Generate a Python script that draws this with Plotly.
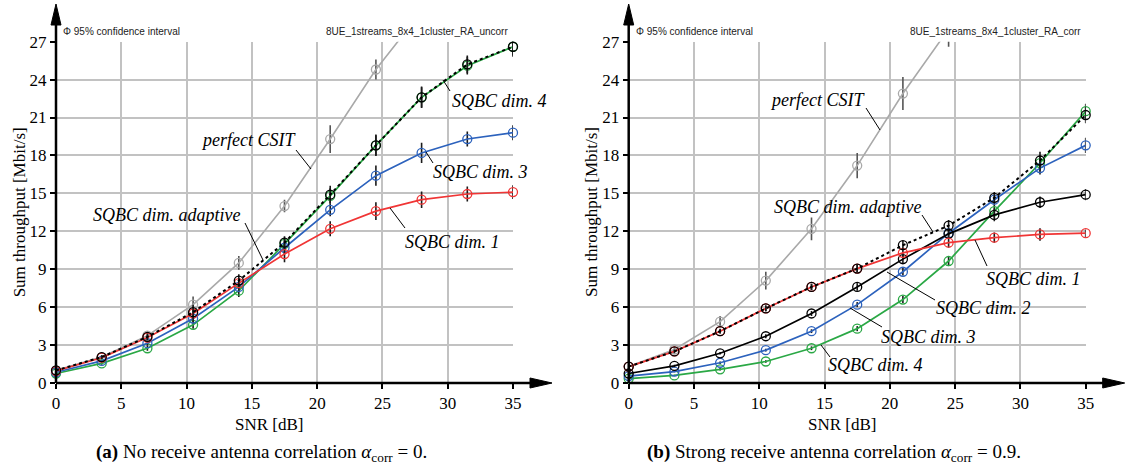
import plotly.graph_objects as go

W, H = 1127, 471

# SNR grid of the simulation [dB]
snr = [0, 3.5, 7, 10.5, 14, 17.5, 21, 24.5, 28, 31.5, 35]
x_ticks = [0, 5, 10, 15, 20, 25, 30, 35]
y_ticks = [0, 3, 6, 9, 12, 15, 18, 21, 24, 27]

# ---- (a) no receive antenna correlation -------------------------------
a_csit = [1.0, 2.05, 3.75, 6.2, 9.5, 14.0, 19.3, 24.8, 29.4]
a_csit_err = [0.1, 0.15, 0.3, 0.65, 0.55, 0.5, 1.1, 0.8, 1.0]
a_dim4 = [0.75, 1.55, 2.75, 4.6, 7.3, 11.0, 14.8, 18.8, 22.6, 25.1, 26.6]
a_dim4_err = [0.1, 0.1, 0.2, 0.3, 0.5, 0.5, 0.6, 0.8, 0.8, 0.7, 0.7]
a_dim3 = [0.85, 1.75, 3.15, 5.1, 7.6, 10.7, 13.7, 16.4, 18.2, 19.3, 19.8]
a_dim3_err = [0.1, 0.1, 0.2, 0.3, 0.4, 0.5, 0.5, 0.8, 0.8, 0.6, 0.6]
a_dim1 = [0.95, 2.0, 3.6, 5.5, 7.9, 10.2, 12.2, 13.6, 14.5, 14.95, 15.1]
a_dim1_err = [0.1, 0.1, 0.2, 0.3, 0.4, 0.65, 0.6, 0.7, 0.65, 0.6, 0.55]
a_adapt = [1.0, 2.05, 3.65, 5.6, 8.1, 11.1, 14.9, 18.8, 22.6, 25.2, 26.6]
a_adapt_err = [0.15, 0.15, 0.25, 0.6, 0.5, 0.5, 0.7, 0.85, 0.85, 0.7, 0.8]

# ---- (b) strong receive antenna correlation ---------------------------
b_csit = [1.3, 2.65, 4.85, 8.1, 12.2, 17.2, 22.9, 28.0]
b_csit_err = [0.15, 0.2, 0.45, 0.7, 0.9, 1.0, 1.3, 1.4]
b_dim4 = [0.35, 0.6, 1.08, 1.7, 2.75, 4.3, 6.6, 9.65, 13.6, 17.4, 21.5]
b_dim4_err = [0.05, 0.05, 0.1, 0.1, 0.15, 0.2, 0.3, 0.4, 0.5, 0.6, 0.6]
b_dim3 = [0.55, 0.9, 1.6, 2.6, 4.1, 6.2, 8.8, 11.85, 14.5, 17.0, 18.8]
b_dim3_err = [0.05, 0.05, 0.1, 0.1, 0.15, 0.2, 0.3, 0.4, 0.4, 0.5, 0.6]
b_dim2 = [0.75, 1.35, 2.35, 3.7, 5.5, 7.6, 9.8, 11.8, 13.3, 14.3, 14.9]
b_dim2_err = [0.05, 0.1, 0.1, 0.15, 0.2, 0.3, 0.4, 0.4, 0.5, 0.45, 0.45]
b_dim1 = [1.3, 2.5, 4.1, 5.9, 7.6, 9.05, 10.3, 11.1, 11.5, 11.75, 11.85]
b_dim1_err = [0.05, 0.1, 0.15, 0.2, 0.25, 0.3, 0.35, 0.4, 0.4, 0.5, 0.3]
b_adapt = [1.3, 2.5, 4.1, 5.9, 7.6, 9.05, 10.9, 12.45, 14.65, 17.6, 21.2]
b_adapt_err = [0.15, 0.15, 0.2, 0.25, 0.25, 0.3, 0.35, 0.45, 0.45, 0.7, 0.65]

GRAY, GREEN, BLUE, RED, BLACK = "#a9a9a9", "#2aa845", "#2c62bd", "#f03535", "#000000"
SERIF = "Liberation Serif"
SANS = "Liberation Sans"


def px(x):
    return x / W


def py(y):
    return 1 - y / H


def series(xs, ys, err, color, xa, ya, dash=None, width=1.7, err_color="#1a1a1a",
           clip=False):
    return go.Scatter(
        x=xs[:len(ys)], y=ys, xaxis=xa, yaxis=ya, mode="lines+markers",
        line=dict(color=color, width=width, dash=dash),
        marker=dict(symbol="circle-open", size=9, color=color if dash is None else BLACK,
                    line=dict(width=1.3)),
        error_y=dict(type="data", array=err, width=0, thickness=1.6, color=err_color),
        cliponaxis=clip, showlegend=False, hoverinfo="skip",
    )


fig = go.Figure()

# subplot (a)
fig.add_trace(series(snr, a_csit, a_csit_err, GRAY, "x", "y", width=1.6, err_color="#555", clip=True))
fig.add_trace(series(snr, a_dim4, a_dim4_err, GREEN, "x", "y"))
fig.add_trace(series(snr, a_dim3, a_dim3_err, BLUE, "x", "y"))
fig.add_trace(series(snr, a_dim1, a_dim1_err, RED, "x", "y"))
fig.add_trace(series(snr, a_adapt, a_adapt_err, BLACK, "x", "y", dash="3px,3px", width=2))

# subplot (b)
fig.add_trace(series(snr, b_csit, b_csit_err, GRAY, "x2", "y2", width=1.6, err_color="#555", clip=True))
fig.add_trace(series(snr, b_dim4, b_dim4_err, GREEN, "x2", "y2"))
fig.add_trace(series(snr, b_dim3, b_dim3_err, BLUE, "x2", "y2"))
fig.add_trace(series(snr, b_dim2, b_dim2_err, BLACK, "x2", "y2"))
fig.add_trace(series(snr, b_dim1, b_dim1_err, RED, "x2", "y2"))
fig.add_trace(series(snr, b_adapt, b_adapt_err, BLACK, "x2", "y2", dash="3px,3px", width=2))

# plot frames in pixels: (left, right) for x=0..35, top/bottom for y=27..0
FRAMES = [(56, 513), (628.7, 1085.7)]
TOP, BOTTOM = 41.7, 383

axis_common = dict(
    showgrid=True, gridcolor="#c2c2c2", gridwidth=1.5, zeroline=False,
    showline=False, ticks="outside", ticklen=5, tickwidth=1.5, tickcolor="black",
    tickfont=dict(family=SERIF, size=17, color="black"), automargin=False,
)
for i, (l, r) in enumerate(FRAMES):
    sx = "" if i == 0 else "2"
    fig.layout["xaxis" + sx] = dict(
        axis_common, domain=[px(l), px(r)], range=[0, 35], tickvals=x_ticks,
        anchor="y" + sx,
    )
    fig.layout["yaxis" + sx] = dict(
        axis_common, domain=[py(BOTTOM), py(TOP)], range=[0, 27], tickvals=y_ticks,
        anchor="x" + sx,
    )

shapes = []
annotations = []


def seg(x0, y0, x1, y1, w=1.0, color="black"):
    shapes.append(dict(type="line", xref="paper", yref="paper",
                       x0=px(x0), y0=py(y0), x1=px(x1), y1=py(y1),
                       line=dict(color=color, width=w), layer="above"))


def tri(points):
    path = "M " + " L ".join(f"{px(a)},{py(b)}" for a, b in points) + " Z"
    shapes.append(dict(type="path", xref="paper", yref="paper", path=path,
                       fillcolor="black", line=dict(color="black", width=1), layer="above"))


def text(x, y, s, size=18, family=SERIF, xanchor="center", angle=0, color="black"):
    annotations.append(dict(xref="paper", yref="paper", x=px(x), y=py(y), text=s,
                            showarrow=False, xanchor=xanchor, yanchor="middle",
                            textangle=angle,
                            font=dict(family=family, size=size, color=color)))


captions = [
    "<b>(a)</b> No receive antenna correlation <i>α</i><sub>corr</sub> = 0.",
    "<b>(b)</b> Strong receive antenna correlation <i>α</i><sub>corr</sub> = 0.9.",
]
run_names = ["8UE_1streams_8x4_1cluster_RA_uncorr", "8UE_1streams_8x4_1cluster_RA_corr"]

for i, (l, r) in enumerate(FRAMES):
    # arrowed axes
    seg(l, BOTTOM, l, 22, w=2.5)
    tri([(l - 5, 25), (l + 5, 25), (l, 4)])
    seg(l, BOTTOM, r + 20, BOTTOM, w=2.5)
    tri([(r + 17, BOTTOM - 5), (r + 17, BOTTOM + 5), (r + 39, BOTTOM)])
    # axis titles
    text(l + 213, 424, "SNR [dB]", size=17)
    text(l - 37, (TOP + BOTTOM) / 2, "Sum throughput [Mbit/s]", size=17, angle=-90)
    # caption
    text((l + r) / 2 - 23, 453, captions[i], size=19)
    # header texts
    text(l + 5, 32, "Φ 95% confidence interval", size=10, family=SANS, xanchor="left",
         color="#222")
    text(r - 3, 32, run_names[i], size=10, family=SANS, xanchor="right", color="#222")

# curve labels with leader lines: (text, centre x, centre y, leader x0, y0, x1, y1)
labels = [
    ("perfect CSIT", 248, 140, 296, 150, 311, 169),
    ("SQBC dim. 4", 499, 101, 443, 80, 450, 91),
    ("SQBC dim. 3", 480, 172, 426, 152, 433, 163),
    ("SQBC dim. 1", 452, 242, 390, 208, 405, 228),
    ("SQBC dim. adaptive", 166, 215, 245, 223, 263, 260),
    ("perfect CSIT", 817, 100, 866, 108, 880, 130),
    ("SQBC dim. adaptive", 847, 207, 922, 215, 933, 232),
    ("SQBC dim. 1", 1033, 279, 975, 240, 987, 266),
    ("SQBC dim. 2", 983, 308, 887, 272, 935, 300),
    ("SQBC dim. 3", 928, 337, 850, 308, 882, 327),
    ("SQBC dim. 4", 875, 365, 821, 345, 830, 357),
]
for s, cx, cy, x0, y0, x1, y1 in labels:
    text(cx, cy, f"<i>{s}</i>", size=18)
    seg(x0, y0, x1, y1, w=1.0)

fig.update_layout(
    width=W, height=H, margin=dict(l=0, r=0, t=0, b=0, autoexpand=False),
    paper_bgcolor="white", plot_bgcolor="white",
    shapes=shapes, annotations=annotations, showlegend=False,
)

fig.write_html("out.html")
